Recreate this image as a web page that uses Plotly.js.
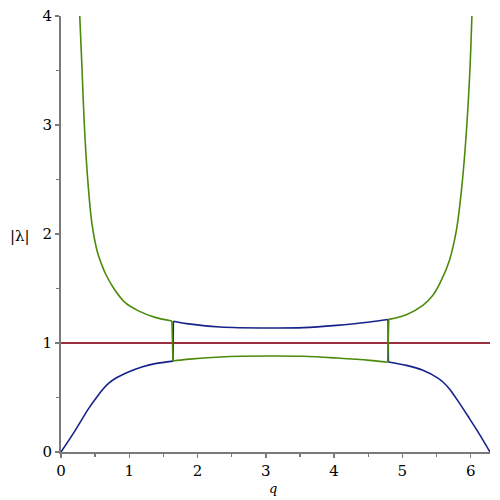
<!DOCTYPE html>
<html>
<head>
<meta charset="utf-8">
<script src="https://cdn.plot.ly/plotly-3.0.1.min.js"></script>
<style>html,body{margin:0;padding:0;background:#fff;}#chart{width:500px;height:500px;}</style>
</head>
<body>
<div id="chart"></div>
<script>
// Green curve: upper-left branch, drop at crossing, lower middle branch, jump up, upper-right branch
const qGreen = [0.25, 0.272, 0.307, 0.341, 0.389, 0.453, 0.535, 0.59, 0.648, 0.769, 0.94, 1.135, 1.379, 1.625,
                1.64, 1.84, 2.33, 3.06, 3.55, 4.035, 4.52, 4.785,
                4.80, 5.058, 5.30, 5.447, 5.57, 5.69, 5.79, 5.86, 5.925, 5.984, 6.02, 6.03];
const yGreen = [4.4, 4.04, 3.53, 3.01, 2.52, 2.095, 1.83, 1.73, 1.64, 1.505, 1.37, 1.295, 1.235, 1.202,
                0.835, 0.85, 0.872, 0.881, 0.878, 0.862, 0.841, 0.823,
                1.217, 1.26, 1.346, 1.438, 1.575, 1.76, 2.03, 2.37, 2.83, 3.44, 4.04, 4.3];
// Blue curve: lower-left branch, jump up, upper middle branch, drop, lower-right branch
const qBlue = [0, 0.209, 0.404, 0.526, 0.62, 0.70, 0.794, 0.988, 1.184, 1.379, 1.64,
               1.646, 1.84, 2.33, 3.06, 3.55, 4.035, 4.52, 4.79,
               4.795, 5.058, 5.30, 5.52, 5.61, 5.69, 5.84, 5.984, 6.13, 6.2832];
const yBlue = [0, 0.199, 0.398, 0.505, 0.58, 0.632, 0.674, 0.734, 0.780, 0.811, 0.834,
               1.199, 1.178, 1.147, 1.138, 1.141, 1.162, 1.193, 1.215,
               0.826, 0.795, 0.75, 0.678, 0.633, 0.578, 0.444, 0.306, 0.162, 0];
// Red reference line |λ| = 1
const qRed = [0, 6.2832];
const yRed = [1, 1];

// branch break indices (last index of each smooth branch)
const greenBreaks = [13, 21];
const blueBreaks = [10, 18];

function segments(xs, ys, breaks, color) {
  const out = [];
  const starts = [0].concat(breaks.map(b => b + 1));
  const ends = breaks.concat([xs.length - 1]);
  for (let i = 0; i < starts.length; i++) {
    out.push({x: xs.slice(starts[i], ends[i] + 1), y: ys.slice(starts[i], ends[i] + 1), mode: 'lines',
      line: {color: color, width: 1.6, shape: 'spline', smoothing: 0.9}, hoverinfo: 'skip'});
  }
  breaks.forEach(b => {
    out.push({x: xs.slice(b, b + 2), y: ys.slice(b, b + 2), mode: 'lines',
      line: {color: color, width: 1.6}, hoverinfo: 'skip'});
  });
  return out;
}

const traces = [
  {x: qRed, y: yRed, mode: 'lines', line: {color: '#9a2f3e', width: 2}, hoverinfo: 'skip'}
].concat(segments(qBlue, yBlue, blueBreaks, '#15238a'))
 .concat(segments(qGreen, yGreen, greenBreaks, '#4d8a0c'));

const serif = 'DejaVu Serif';
const tickFont = {family: serif, size: 15, color: '#000'};

const layout = {
  width: 500, height: 500,
  margin: {l: 61, r: 10, t: 16, b: 48},
  paper_bgcolor: '#fff', plot_bgcolor: '#fff',
  showlegend: false,
  xaxis: {
    range: [0, 6.2832], showgrid: false, zeroline: false,
    showline: true, linecolor: '#7a7a7a', linewidth: 2,
    ticks: 'outside', ticklen: 4, tickwidth: 1.5, tickcolor: '#7a7a7a',
    dtick: 1, tick0: 0, tickfont: tickFont,
    minor: {dtick: 0.5, ticks: 'outside', ticklen: 3, tickcolor: '#7a7a7a', showgrid: false}
  },
  yaxis: {
    range: [0, 4], showgrid: false, zeroline: false,
    showline: true, linecolor: '#7a7a7a', linewidth: 2,
    ticks: 'outside', ticklen: 4, tickwidth: 1.5, tickcolor: '#7a7a7a',
    dtick: 1, tick0: 0, tickfont: tickFont,
    minor: {dtick: 0.5, ticks: 'outside', ticklen: 3, tickcolor: '#7a7a7a', showgrid: false}
  },
  annotations: [
    {text: '|λ|', xref: 'paper', yref: 'paper', x: -0.095, y: 0.495, xanchor: 'center', yanchor: 'middle',
     showarrow: false, font: {family: serif, size: 15, color: '#000'}},
    {text: '<i>q</i>', xref: 'x', yref: 'paper', x: 3.1, y: -0.083, xanchor: 'center', yanchor: 'middle',
     showarrow: false, font: {family: serif, size: 13, color: '#000'}}
  ]
};

Plotly.newPlot('chart', traces, layout, {staticPlot: true, displayModeBar: false});
</script>
</body>
</html>
